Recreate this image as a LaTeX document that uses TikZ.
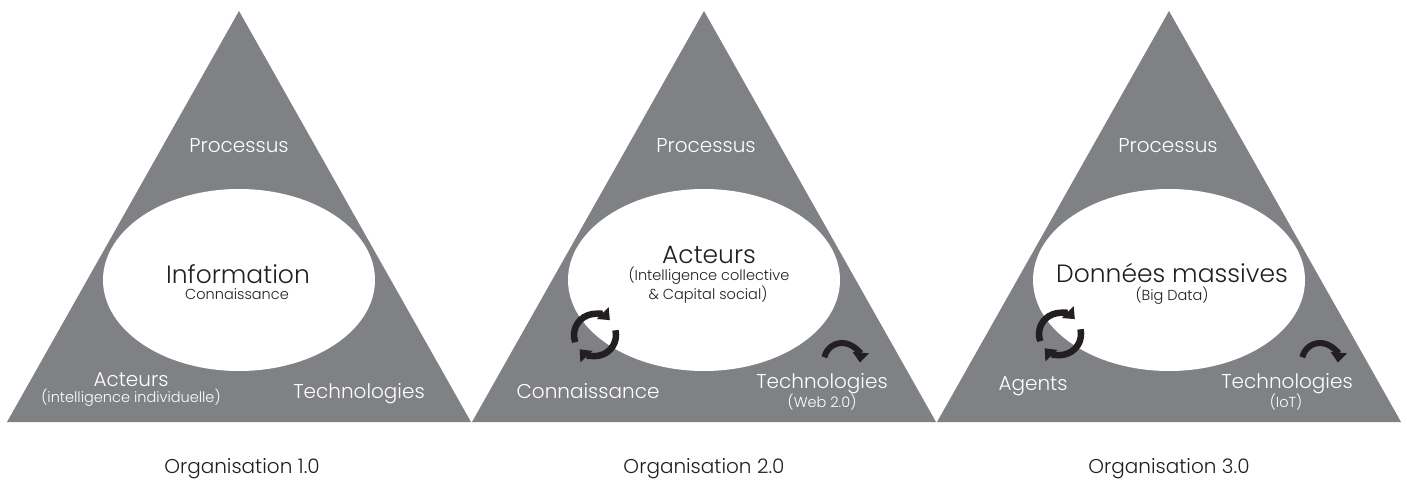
\documentclass[tikz,border=0pt]{standalone}
\usepackage{fontspec}
\setmainfont{Poppins Light}
\usetikzlibrary{arrows.meta,calc}
\definecolor{tri}{RGB}{128,129,133}
\definecolor{ink}{RGB}{35,31,32}
\tikzset{
  x=1pt, y=-1pt,
  trishape/.style={fill=tri, draw=none},
  lab/.style={text=white, anchor=base, inner sep=0pt, font=\fontsize{20}{22}\selectfont},
  labsub/.style={text=white, anchor=base, inner sep=0pt, font=\fontsize{14.5}{16}\selectfont},
  coretxt/.style={text=ink, anchor=base, inner sep=0pt, font=\fontsize{25}{28}\selectfont},
  coresub/.style={text=ink, anchor=base, inner sep=0pt, font=\fontsize{14.5}{16}\selectfont},
  captxt/.style={text=ink, anchor=base, inner sep=0pt, font=\fontsize{20}{22}\selectfont},
  cyc/.style={draw=ink, line width=6.5pt, -{Triangle[length=10pt,width=16pt]}},
}
\begin{document}
\begin{tikzpicture}
\useasboundingbox (0,0) rectangle (1407,479);
\fill[white] (0,0) rectangle (1407,479);
% triangles
\foreach \c/\n in {239/a,704/b,1169/c}{
  \coordinate (apex\n) at (\c,11);
  \coordinate (bl\n) at (\c-232,422);
  \coordinate (br\n) at (\c+232,422);
  \fill[trishape] (apex\n) -- (bl\n) -- (br\n) -- cycle;
  \fill[white] (\c,280) ellipse[x radius=136, y radius=91];
}
% ---------- Organisation 1.0
\node[lab] (p1) at (239,152) {Processus};
\node[coretxt] (info1) at (238,283) {Information};
\node[coresub] (conn1) at (237,299) {Connaissance};
\node[lab] (act1) at (131,386) {Acteurs};
\node[labsub] (act1s) at (131,402) {(intelligence individuelle)};
\node[lab] (tech1) at (359,398) {Technologies};
\node[captxt] (org1) at (242,473) {Organisation 1.0};
% ---------- Organisation 2.0
\node[lab] (p2) at (706,152) {Processus};
\node[coretxt] (act2) at (709,263) {Acteurs};
\node[coresub] (act2a) at (709,280) {(Intelligence collective};
\node[coresub] (act2b) at (708,299) {\& Capital social)};
\node[lab] (conn2) at (588,398) {Connaissance};
\node[lab] (tech2) at (822,388) {Technologies};
\node[labsub] (tech2s) at (822,407) {(Web 2.0)};
\node[captxt] (org2) at (704,473) {Organisation 2.0};
\coordinate (cyc2) at (595,335);
\draw[cyc] ($(cyc2)+(-200:21)$) arc[start angle=-200, end angle=-45, radius=21];
\draw[cyc] ($(cyc2)+(-13:21)$) arc[start angle=-13, end angle=137, radius=21];
\coordinate (rot2) at (842,361);
\draw[cyc, line width=6pt] ($(rot2)+(-168:18)$) arc[start angle=-168, end angle=5, radius=18];
% ---------- Organisation 3.0
\node[lab] (p3) at (1168,152) {Processus};
\node[coretxt] (don3) at (1172,282) {Données massives};
\node[coresub] (don3s) at (1172,300) {(Big Data)};
\node[lab] (ag3) at (1033,390) {Agents};
\node[lab] (tech3) at (1287,388) {Technologies};
\node[labsub] (tech3s) at (1286,407) {(IoT)};
\node[captxt] (org3) at (1169,473) {Organisation 3.0};
\coordinate (cyc3) at (1060,334);
\draw[cyc] ($(cyc3)+(-200:21)$) arc[start angle=-200, end angle=-45, radius=21];
\draw[cyc] ($(cyc3)+(-13:21)$) arc[start angle=-13, end angle=137, radius=21];
\coordinate (rot3) at (1320,361);
\draw[cyc, line width=6pt] ($(rot3)+(-168:18)$) arc[start angle=-168, end angle=5, radius=18];
\end{tikzpicture}
\end{document}
